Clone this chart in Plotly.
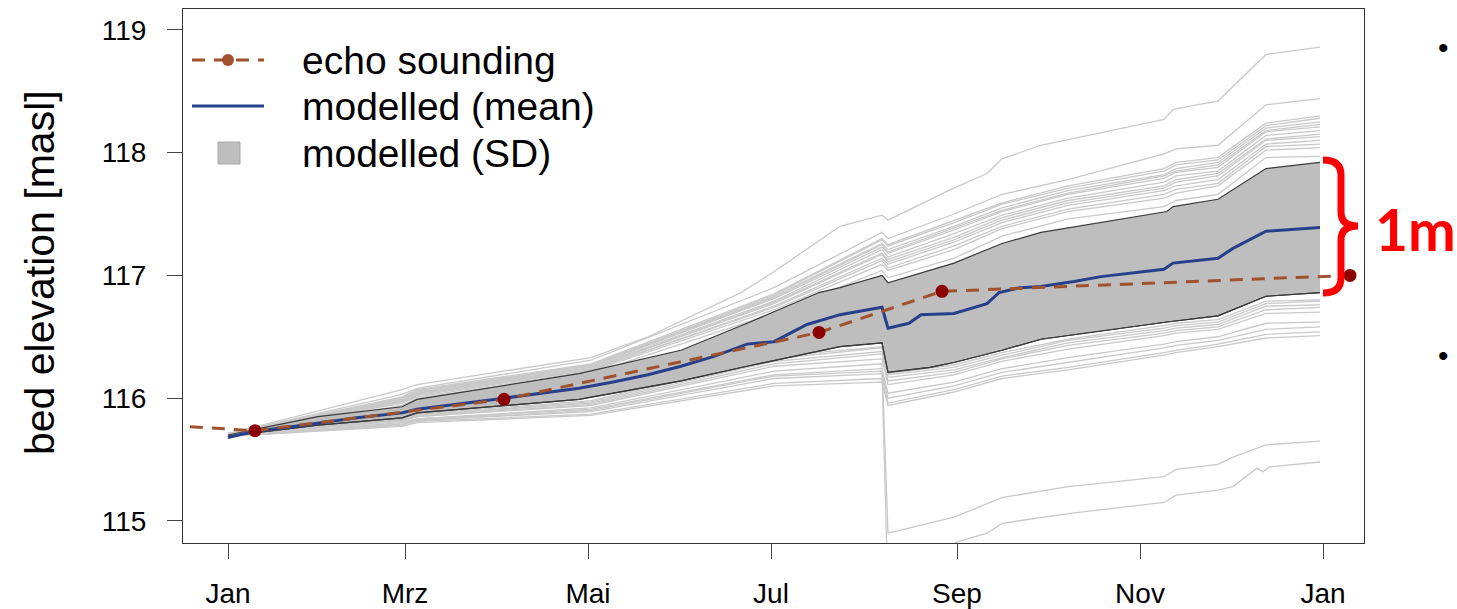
import pandas as pd
import plotly.graph_objects as go

# ---------------- data ----------------
BASE = pd.Timestamp("2015-01-01")

# echo sounding surveys
echo_dates = ["2014-11-20", "2015-01-10", "2015-04-03", "2015-07-17", "2015-08-27", "2016-01-10"]
echo_values = [115.81, 115.735, 115.99, 116.535, 116.87, 117.00]

# modelled ensemble mean (day of year, bed elevation)
mean_days = [0, 9, 25, 43, 58, 63, 92, 117, 128, 140, 151, 162, 173, 182, 193, 204, 218, 220,
             227, 231, 242, 253, 257, 264, 271, 282, 291, 302, 312, 315, 330, 335, 346, 364]
mean_values = [115.68, 115.73, 115.78, 115.84, 115.88, 115.91, 116.00, 116.08, 116.13, 116.19,
               116.26, 116.34, 116.44, 116.46, 116.60, 116.68, 116.74, 116.57, 116.61, 116.68,
               116.69, 116.77, 116.86, 116.90, 116.91, 116.95, 116.99, 117.02, 117.05, 117.10,
               117.14, 117.22, 117.36, 117.39]

# mean + SD
sd_hi_days = [0, 30, 58, 63, 117, 151, 173, 197, 204, 218, 220, 242, 258, 271, 313, 315, 330, 346, 364]
sd_hi_values = [115.70, 115.85, 115.93, 115.99, 116.20, 116.39, 116.61, 116.86, 116.90, 117.00,
                116.94, 117.10, 117.26, 117.35, 117.52, 117.56, 117.62, 117.87, 117.92]
# mean - SD
sd_lo_days = [0, 30, 58, 63, 117, 151, 173, 204, 218, 220, 234, 242, 258, 271, 313, 330, 346, 364]
sd_lo_values = [115.69, 115.78, 115.84, 115.88, 115.99, 116.14, 116.26, 116.42, 116.45, 116.21,
                116.25, 116.29, 116.39, 116.48, 116.62, 116.67, 116.83, 116.86]

# individual model runs
run_days = [0, 58, 63, 121, 182, 218, 220, 242, 258, 280, 312, 316, 330, 346, 364]

run_top_days = [0, 58, 63, 121, 140, 154, 171, 182, 204, 218, 220, 241, 253, 258, 271, 312,
                315, 321, 330, 346, 364]
run_top = [115.71, 116.07, 116.11, 116.33, 116.50, 116.66, 116.86, 117.03, 117.40, 117.49, 117.45,
           117.70, 117.83, 117.95, 118.06, 118.27, 118.35, 118.38, 118.42, 118.80, 118.86]

run_second = [115.71, 116.03, 116.08, 116.31, 116.90, 117.35, 117.30, 117.50, 117.66, 117.78,
              117.99, 118.03, 118.06, 118.39, 118.44]

runs_high = [
    [115.71, 116.01, 116.07, 116.28, 116.85, 117.30, 117.25, 117.45, 117.59, 117.73, 117.87, 117.92, 117.96, 118.24, 118.30],
    [115.71, 116.00, 116.06, 116.27, 116.84, 117.29, 117.24, 117.43, 117.58, 117.71, 117.85, 117.90, 117.94, 118.22, 118.28],
    [115.71, 116.00, 116.06, 116.27, 116.83, 117.26, 117.21, 117.40, 117.55, 117.69, 117.82, 117.87, 117.92, 118.20, 118.25],
    [115.71, 115.99, 116.05, 116.26, 116.82, 117.25, 117.19, 117.39, 117.53, 117.67, 117.81, 117.85, 117.90, 118.18, 118.23],
    [115.71, 115.99, 116.05, 116.26, 116.81, 117.23, 117.18, 117.37, 117.52, 117.66, 117.79, 117.84, 117.88, 118.17, 118.21],
    [115.71, 115.98, 116.04, 116.25, 116.79, 117.21, 117.15, 117.34, 117.49, 117.63, 117.76, 117.81, 117.85, 118.14, 118.18],
    [115.71, 115.98, 116.04, 116.24, 116.78, 117.18, 117.13, 117.31, 117.47, 117.61, 117.73, 117.78, 117.83, 118.11, 118.15],
    [115.71, 115.97, 116.03, 116.24, 116.77, 117.17, 117.11, 117.29, 117.45, 117.59, 117.71, 117.76, 117.81, 118.10, 118.13],
    [115.70, 115.97, 116.03, 116.23, 116.75, 117.14, 117.09, 117.27, 117.43, 117.57, 117.69, 117.73, 117.78, 118.07, 118.10],
    [115.70, 115.96, 116.02, 116.23, 116.74, 117.12, 117.06, 117.24, 117.40, 117.54, 117.66, 117.70, 117.75, 118.05, 118.07],
    [115.70, 115.96, 116.01, 116.22, 116.72, 117.09, 117.04, 117.21, 117.38, 117.52, 117.63, 117.67, 117.73, 118.02, 118.04],
    [115.70, 115.94, 116.00, 116.20, 116.69, 117.04, 116.98, 117.14, 117.32, 117.46, 117.56, 117.61, 117.66, 117.96, 117.97],
]

runs_low = [
    [115.70, 115.83, 115.87, 115.98, 116.34, 116.42, 116.20, 116.27, 116.37, 116.48, 116.59, 116.61, 116.64, 116.79, 116.80],
    [115.70, 115.83, 115.86, 115.97, 116.32, 116.41, 116.19, 116.25, 116.35, 116.47, 116.57, 116.59, 116.62, 116.77, 116.79],
    [115.70, 115.82, 115.86, 115.96, 116.30, 116.38, 116.17, 116.23, 116.33, 116.45, 116.55, 116.57, 116.60, 116.75, 116.76],
    [115.70, 115.82, 115.85, 115.95, 116.28, 116.36, 116.14, 116.21, 116.32, 116.43, 116.53, 116.55, 116.58, 116.72, 116.74],
    [115.70, 115.81, 115.85, 115.94, 116.26, 116.32, 116.11, 116.19, 116.30, 116.40, 116.51, 116.53, 116.56, 116.69, 116.70],
    [115.69, 115.79, 115.83, 115.91, 116.19, 116.24, 116.04, 116.13, 116.24, 116.33, 116.44, 116.46, 116.50, 116.61, 116.62],
    [115.69, 115.79, 115.82, 115.89, 116.16, 116.20, 116.00, 116.10, 116.21, 116.29, 116.41, 116.43, 116.47, 116.56, 116.58],
    [115.69, 115.78, 115.81, 115.87, 116.12, 116.16, 115.96, 116.07, 116.18, 116.25, 116.37, 116.39, 116.44, 116.52, 116.54],
    [115.69, 115.77, 115.80, 115.86, 116.10, 116.13, 115.94, 116.05, 116.16, 116.23, 116.35, 116.37, 116.42, 116.49, 116.51],
]

run_drop_a_days = [0, 58, 63, 121, 182, 218, 220, 242, 258, 280, 312, 316, 330, 335, 346, 364]
run_drop_a = [115.69, 115.80, 115.83, 115.92, 116.22, 116.28, 114.90, 115.03, 115.19, 115.28,
              115.36, 115.42, 115.46, 115.52, 115.62, 115.65]

run_drop_b_days = [0, 58, 63, 121, 182, 218, 220, 243, 253, 258, 280, 312, 316, 330, 335, 343, 345, 347, 364]
run_drop_b = [115.69, 115.78, 115.82, 115.90, 116.18, 116.22, 114.40, 114.83, 114.90, 114.98, 115.06,
              115.15, 115.21, 115.25, 115.28, 115.43, 115.40, 115.44, 115.48]

month_ticks = ["2015-01-01", "2015-03-01", "2015-05-01", "2015-07-01", "2015-09-01", "2015-11-01", "2016-01-01"]
month_labels = ["Jan", "Mrz", "Mai", "Jul", "Sep", "Nov", "Jan"]
y_ticks = [115, 116, 117, 118, 119]


def to_dates(days):
    return [BASE + pd.Timedelta(days=float(d)) for d in days]


# ---------------- styling ----------------
FONT = "Liberation Sans, Arial, sans-serif"
RUN_COLOR = "#c9c9c9"
SD_FILL = "#bebebe"
SD_EDGE = "#3a3a3a"
MEAN_COLOR = "#27408b"
ECHO_LINE = "#a0522d"
ECHO_DOT = "#8b0000"
DASH = "13px,9px"

fig = go.Figure()

# model runs (drawn first, the SD band covers them)
all_runs = ([(run_top_days, run_top), (run_days, run_second)]
            + [(run_days, r) for r in runs_high]
            + [(run_days, r) for r in runs_low]
            + [(run_drop_a_days, run_drop_a), (run_drop_b_days, run_drop_b)])
for days, vals in all_runs:
    fig.add_trace(go.Scatter(x=to_dates(days), y=vals, mode="lines",
                             line=dict(color=RUN_COLOR, width=1.3), hoverinfo="skip",
                             showlegend=False))

# SD band
fig.add_trace(go.Scatter(x=to_dates(sd_lo_days), y=sd_lo_values, mode="lines",
                         line=dict(color=SD_EDGE, width=1.2), showlegend=False))
fig.add_trace(go.Scatter(x=to_dates(sd_hi_days), y=sd_hi_values, mode="lines",
                         line=dict(color=SD_EDGE, width=1.2), fill="tonexty",
                         fillcolor=SD_FILL, showlegend=False))
# redraw the lower edge on top of the fill
fig.add_trace(go.Scatter(x=to_dates(sd_lo_days), y=sd_lo_values, mode="lines",
                         line=dict(color=SD_EDGE, width=1.2), showlegend=False))

# ensemble mean
fig.add_trace(go.Scatter(x=to_dates(mean_days), y=mean_values, mode="lines",
                         line=dict(color=MEAN_COLOR, width=3), showlegend=False))

# echo sounding
fig.add_trace(go.Scatter(x=echo_dates, y=echo_values, mode="lines",
                         line=dict(color=ECHO_LINE, width=3, dash=DASH), showlegend=False))
fig.add_trace(go.Scatter(x=echo_dates, y=echo_values, mode="markers",
                         marker=dict(color=ECHO_DOT, size=13), showlegend=False,
                         cliponaxis=False))

# ---------------- layout ----------------
L, R, T, B = 183, 93, 9, 66
W, H = 1457, 609
PW, PH = W - L - R, H - T - B


def px_x(x):
    return (x - L) / PW


def px_y(y):
    return (H - B - y) / PH


shapes = []
annotations = []

# hand-placed legend
rows = [(60, "echo sounding"), (106, "modelled (mean)"), (153, "modelled (SD)")]
shapes.append(dict(type="line", xref="paper", yref="paper", x0=px_x(192), x1=px_x(264),
                   y0=px_y(60), y1=px_y(60), line=dict(color=ECHO_LINE, width=3, dash=DASH)))
shapes.append(dict(type="circle", xref="paper", yref="paper", x0=px_x(222), x1=px_x(234),
                   y0=px_y(66), y1=px_y(54), fillcolor=ECHO_LINE, line=dict(width=0)))
shapes.append(dict(type="line", xref="paper", yref="paper", x0=px_x(192), x1=px_x(264),
                   y0=px_y(106), y1=px_y(106), line=dict(color=MEAN_COLOR, width=3)))
shapes.append(dict(type="rect", xref="paper", yref="paper", x0=px_x(218), x1=px_x(240),
                   y0=px_y(164), y1=px_y(142), fillcolor=SD_FILL,
                   line=dict(color="#a8a8a8", width=1)))
for y, txt in rows:
    annotations.append(dict(text=txt, xref="paper", yref="paper", x=px_x(300), y=px_y(y),
                            xanchor="left", yanchor="middle", showarrow=False,
                            font=dict(family=FONT, size=39, color="black")))

# y axis title
annotations.append(dict(text="bed elevation [masl]", xref="paper", yref="paper",
                        x=px_x(40), y=px_y(273), textangle=-90, showarrow=False,
                        xanchor="center", yanchor="middle",
                        font=dict(family=FONT, size=41, color="black")))

# red brace with the 1 m spread label
bx = [px_x(v) for v in (1323, 1338, 1341, 1358)]
by = [px_y(v) for v in (160, 175, 212, 226, 240, 278, 293)]
brace = (f"M {bx[0]},{by[0]} Q {bx[2]},{by[0]} {bx[2]},{by[1]} L {bx[2]},{by[2]} "
         f"Q {bx[2]},{by[3]} {bx[3]},{by[3]} Q {bx[2]},{by[3]} {bx[2]},{by[4]} "
         f"L {bx[2]},{by[5]} Q {bx[2]},{by[6]} {bx[0]},{by[6]}")
shapes.append(dict(type="path", xref="paper", yref="paper", path=brace,
                   line=dict(color="#ff0000", width=7)))
annotations.append(dict(text="<b>1m</b>", xref="paper", yref="paper", x=px_x(1373), y=px_y(229),
                        xanchor="left", yanchor="middle", showarrow=False,
                        font=dict(family="Lato, Noto Sans, sans-serif", size=57, color="#ff0000")))

# bullet marks at the right edge
for yb in (48, 355):
    annotations.append(dict(text="•", xref="paper", yref="paper", x=px_x(1436), y=px_y(yb),
                            xanchor="left", yanchor="middle", showarrow=False,
                            font=dict(family=FONT, size=30, color="black")))

fig.update_layout(
    width=W, height=H,
    margin=dict(l=L, r=R, t=T, b=B, pad=0, autoexpand=False),
    paper_bgcolor="white", plot_bgcolor="white",
    showlegend=False,
    shapes=shapes, annotations=annotations,
    font=dict(family=FONT, color="black"),
)
fig.update_xaxes(
    type="date", range=["2014-12-17", "2016-01-14 16:00"],
    tickvals=month_ticks, ticktext=month_labels,
    ticks="outside", ticklen=15, tickwidth=1, tickcolor="#444",
    ticklabelstandoff=10, automargin=False,
    tickfont=dict(family=FONT, size=28, color="black"),
    showgrid=False, zeroline=False,
    showline=True, mirror=True, linecolor="#333", linewidth=1,
)
fig.update_yaxes(
    range=[114.82, 119.17], tickvals=y_ticks,
    ticks="outside", ticklen=15, tickwidth=1, tickcolor="#444",
    ticklabelstandoff=15, automargin=False,
    tickfont=dict(family=FONT, size=28, color="black"),
    showgrid=False, zeroline=False,
    showline=True, mirror=True, linecolor="#333", linewidth=1,
)

fig.write_html("out.html")
